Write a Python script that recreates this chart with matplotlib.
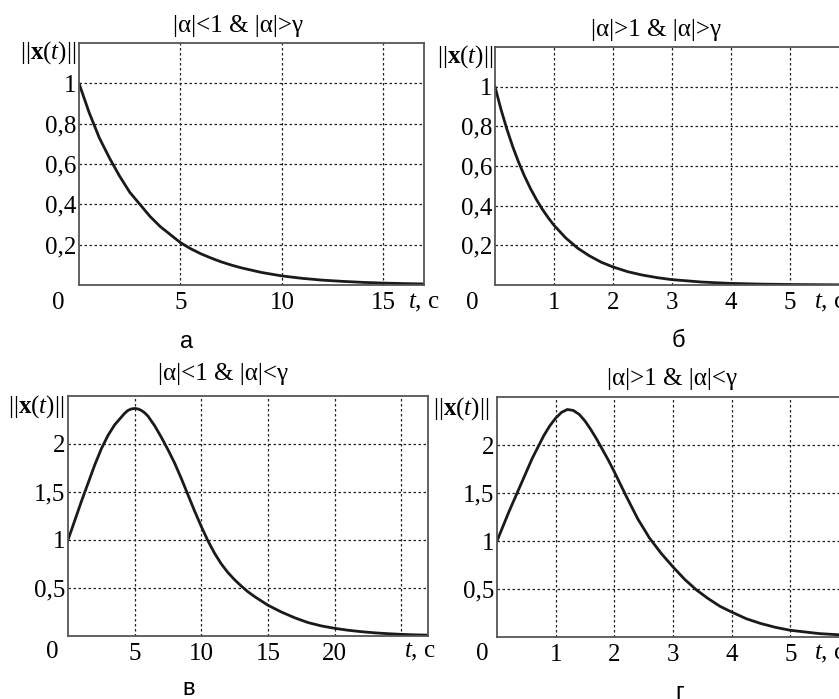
import matplotlib
matplotlib.use("Agg")
import matplotlib.pyplot as plt
import matplotlib.transforms as mtransforms

plt.rcParams['font.family'] = ['Liberation Serif', 'DejaVu Serif']
plt.rcParams['mathtext.fontset'] = 'custom'
plt.rcParams['mathtext.rm'] = 'Liberation Serif'
plt.rcParams['mathtext.it'] = 'Liberation Serif:italic'
plt.rcParams['mathtext.bf'] = 'Liberation Serif:bold'

W, H = 839, 699
FS = 18

# данные
t_a = [0, 0.5, 1, 1.5, 2, 2.5, 3, 3.5, 4, 4.5, 5, 5.5, 6, 6.5, 7, 7.5, 8, 9, 10,
       11, 12, 13, 14, 15, 16, 17]
x_a = [1.0, 0.855, 0.73, 0.63, 0.54, 0.46, 0.40, 0.34, 0.29, 0.25, 0.21, 0.18,
       0.155, 0.134, 0.115, 0.099, 0.085, 0.062, 0.045, 0.033, 0.024, 0.018,
       0.013, 0.0095, 0.007, 0.005]

t_b = [0, 0.1, 0.2, 0.3, 0.4, 0.5, 0.6, 0.7, 0.8, 0.9, 1.0, 1.2, 1.4, 1.6, 1.8,
       2.0, 2.25, 2.5, 2.75, 3.0, 3.5, 4, 4.5, 5, 5.5, 6]
x_b = [1.0, 0.887, 0.787, 0.698, 0.619, 0.549, 0.487, 0.432, 0.383, 0.340,
       0.301, 0.237, 0.186, 0.147, 0.115, 0.091, 0.067, 0.050, 0.037, 0.027,
       0.015, 0.008, 0.0045, 0.0025, 0.0014, 0.0007]

t_c = [0, 0.5, 1, 1.5, 2, 2.5, 3, 3.5, 4, 4.25, 4.5, 4.75, 5, 5.25, 5.5, 5.75,
       6, 6.5, 7, 7.5, 8, 8.5, 9, 9.5, 10, 10.5, 11, 11.5, 12, 12.5, 13, 13.5,
       14, 15, 16, 17, 18, 19, 20, 21, 22, 23, 24, 25, 26, 27]
x_c = [1.00, 1.20, 1.40, 1.59, 1.78, 1.95, 2.09, 2.20, 2.28, 2.32, 2.35, 2.365,
       2.37, 2.365, 2.35, 2.325, 2.29, 2.19, 2.07, 1.94, 1.80, 1.64, 1.47,
       1.30, 1.14, 0.99, 0.86, 0.75, 0.66, 0.585, 0.52, 0.46, 0.41, 0.32, 0.25,
       0.19, 0.14, 0.105, 0.08, 0.06, 0.045, 0.033, 0.024, 0.017, 0.012, 0.009]

t_d = [0, 0.1, 0.2, 0.3, 0.4, 0.5, 0.6, 0.7, 0.8, 0.9, 1.0, 1.1, 1.2, 1.3, 1.4,
       1.5, 1.6, 1.7, 1.8, 1.9, 2.0, 2.2, 2.4, 2.6, 2.8, 3.0, 3.2, 3.4, 3.6, 3.8,
       4.0, 4.25, 4.5, 4.75, 5.0, 5.5, 6.0]
x_d = [1.00, 1.15, 1.30, 1.44, 1.58, 1.72, 1.86, 1.98, 2.10, 2.20, 2.28, 2.34,
       2.37, 2.36, 2.32, 2.25, 2.16, 2.06, 1.95, 1.84, 1.72, 1.47, 1.23, 1.03,
       0.87, 0.73, 0.60, 0.49, 0.40, 0.32, 0.26, 0.19, 0.14, 0.10, 0.07, 0.035,
       0.017]

titles = ['|α|<1 & |α|>γ', '|α|>1 & |α|>γ', '|α|<1 & |α|<γ', '|α|>1 & |α|<γ']
letters = ['а', 'б', 'в', 'г']

xticks_a = [5, 10, 15]
xticks_b = [1, 2, 3, 4, 5]
xticks_c = [5, 10, 15, 20]
xticks_d = [1, 2, 3, 4, 5]
yticks_top = [0.2, 0.4, 0.6, 0.8, 1.0]
ylabels_top = ['0,2', '0,4', '0,6', '0,8', '1']
yticks_bot = [0.5, 1.0, 1.5, 2.0]
ylabels_bot = ['0,5', '1', '1,5', '2']


def pos(l, r, t, b):
    return [l / W, 1 - b / H, (r - l) / W, (b - t) / H]


def px(x, y):
    return x / W, 1 - y / H


fig = plt.figure(figsize=(W / 100, H / 100), dpi=100)

panels = [
    # t, x, xlim, ylim, xticks, yticks, ylabels, рамка, заголовок, буква, подпись оси, ноль, "t, c", сетка x
    (t_a, x_a, 17, 1.2, xticks_a, yticks_top, ylabels_top, (79, 424, 43, 285),
     (238, 26), (187, 342), (76, 53), (58, 303), 16.2, [5, 10, 15]),
    (t_b, x_b, 6, 1.2, xticks_b, yticks_top, ylabels_top, (495, 849, 47, 285),
     (656, 30), (678, 341), (493, 57), (472, 303), 5.4, [1, 2, 3, 4, 5]),
    (t_c, x_c, 27, 2.5, xticks_c, yticks_bot, ylabels_bot, (68, 428, 396, 636),
     (223, 374), (189, 689), (64, 407), (52, 652), 25.2, [5, 10, 15, 20, 25]),
    (t_d, x_d, 6, 2.5, xticks_d, yticks_bot, ylabels_bot, (497, 849, 397, 637),
     (672, 379), (680, 693), (489, 409), (482, 654), 5.4, [1, 2, 3, 4, 5]),
]

for i, p in enumerate(panels):
    t, x, xmax, ymax, xt, yt, yl, box, tpos, lpos, ylpos, zpos, tcx, gx = p
    ax = fig.add_axes(pos(*box))
    ax.plot(t, x, color='#1a1a1a', lw=2.0)
    ax.set_xlim(0, xmax)
    ax.set_ylim(0, ymax)
    # сетка (включая линии без подписи)
    for g in gx:
        ax.axvline(g, color='#222222', lw=0.9, ls=(0, (2, 2)), zorder=0)
    for g in yt:
        ax.axhline(g, color='#222222', lw=0.9, ls=(0, (2, 2)), zorder=0)
    ax.set_xticks(xt)
    ax.set_xticklabels([str(v) for v in xt])
    ax.set_yticks(yt)
    ax.set_yticklabels(yl)
    ax.tick_params(length=0, labelsize=FS, pad=2)
    ax.tick_params(axis='x', pad=5)
    for s in ax.spines.values():
        s.set_color('#555555')
        s.set_linewidth(1.3)

    trans = mtransforms.blended_transform_factory(ax.transData, fig.transFigure)
    ax.text(tcx, px(0, zpos[1])[1], r'$t$, c', transform=trans, fontsize=FS,
            ha='left', va='center', clip_on=False)

    fig.text(*px(*tpos), titles[i], fontsize=FS, ha='center', va='center')
    fig.text(*px(*lpos), letters[i], fontsize=17, ha='center', va='center',
             family='Liberation Sans')
    fig.text(*px(*ylpos), r'$||\mathbf{x}(t)||$', fontsize=FS, ha='right',
             va='center')
    fig.text(*px(*zpos), '0', fontsize=FS, ha='center', va='center')

fig.savefig('out.png', dpi=100)
